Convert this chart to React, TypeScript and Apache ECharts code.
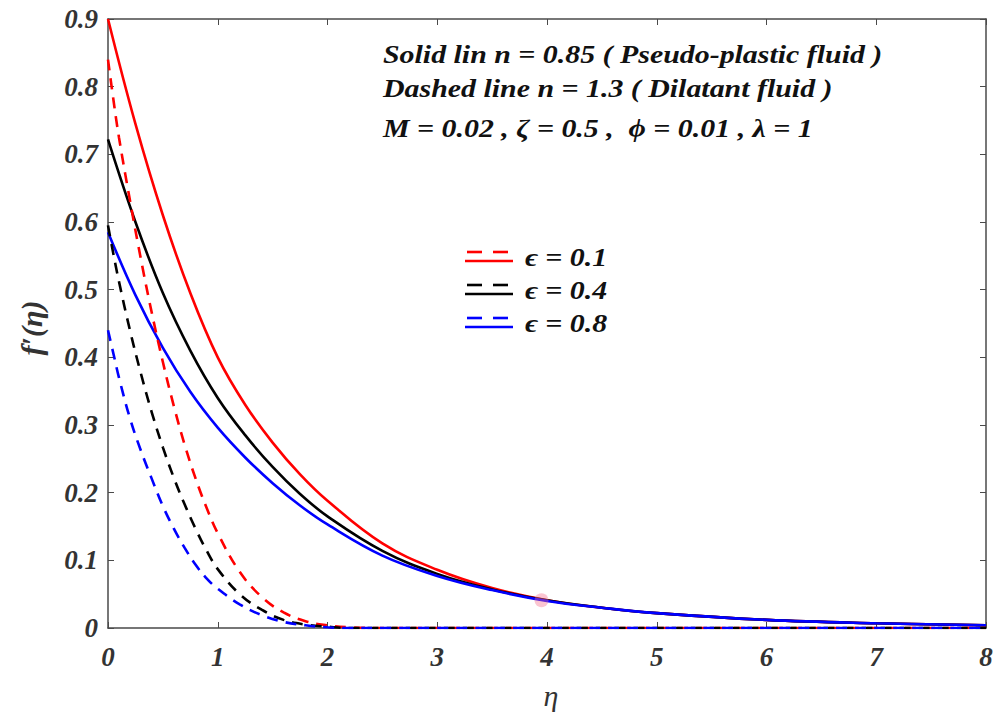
import React, { useEffect, useRef } from "react";
import * as echarts from "echarts";

// η grid for solid curves (n = 0.85, pseudo-plastic)
const etaSolid = [0, 0.25, 0.5, 0.75, 1, 1.25, 1.5, 1.75, 2, 2.5, 3, 3.5, 4, 4.5, 5, 6, 7, 8];
const redSolid = [0.9, 0.745, 0.61, 0.495, 0.4, 0.33, 0.274, 0.227, 0.188, 0.125, 0.086, 0.059, 0.041, 0.03, 0.022, 0.012, 0.007, 0.004];
const blackSolid = [0.722, 0.6, 0.495, 0.41, 0.34, 0.285, 0.238, 0.198, 0.165, 0.114, 0.08, 0.057, 0.041, 0.03, 0.022, 0.012, 0.007, 0.004];
const blueSolid = [0.585, 0.492, 0.414, 0.349, 0.296, 0.252, 0.214, 0.181, 0.153, 0.107, 0.077, 0.056, 0.04, 0.03, 0.022, 0.012, 0.007, 0.004];

// η grid for dashed curves (n = 1.3, dilatant)
const etaDashed = [0, 0.05, 0.1, 0.2, 0.3, 0.4, 0.5, 0.6, 0.7, 0.8, 0.9, 1.0, 1.2, 1.4, 1.6, 1.8, 2.0, 2.2, 2.5, 3, 4, 5, 6, 7, 8];
const redDashed = [0.84, 0.78, 0.725, 0.632, 0.545, 0.465, 0.393, 0.328, 0.27, 0.22, 0.177, 0.14, 0.083, 0.046, 0.023, 0.01, 0.004, 0.001, 0, 0, 0, 0, 0, 0, 0];
const blackDashed = [0.595, 0.552, 0.512, 0.44, 0.376, 0.318, 0.267, 0.222, 0.182, 0.146, 0.114, 0.087, 0.05, 0.027, 0.012, 0.005, 0.002, 0, 0, 0, 0, 0, 0, 0, 0];
const blueDashed = [0.44, 0.405, 0.37, 0.31, 0.262, 0.22, 0.18, 0.147, 0.118, 0.093, 0.073, 0.058, 0.035, 0.019, 0.009, 0.004, 0.001, 0, 0, 0, 0, 0, 0, 0, 0];

const markerEta = [3.95];
const markerVal = [0.041];

const xTicks = [0, 1, 2, 3, 4, 5, 6, 7, 8];
const yTickStep = 0.1;
const legendLabels = ["ϵ = 0.1", "ϵ = 0.4", "ϵ = 0.8"];
const legendColors = ["#ff0000", "#000000", "#0000ff"];
const noteLines = [
  "Solid lin n = 0.85 ( Pseudo-plastic fluid )",
  "Dashed line n = 1.3 ( Dilatant fluid )",
  "M = 0.02 , ζ = 0.5 ,  ϕ = 0.01 , λ = 1",
];

const FONT = "'Liberation Serif', 'DejaVu Serif', serif";

function pairs(xs: number[], ys: number[]) {
  return xs.map((x, i) => [x, ys[i]]);
}

export default function App() {
  const ref = useRef<HTMLDivElement>(null);
  useEffect(() => {
    document.body.style.margin = "0";
    if (!ref.current) return;
    const chart = echarts.init(ref.current, undefined, { renderer: "svg" });
    const axisColor = "#4a4a4a";
    const labelStyle = {
      color: "#333",
      fontFamily: FONT,
      fontSize: 27,
      fontWeight: "bold" as const,
      fontStyle: "italic" as const,
    };
    const solid = (name: string, data: number[], color: string) => ({
      name,
      type: "line",
      data: pairs(etaSolid, data),
      smooth: 0.4,
      showSymbol: false,
      lineStyle: { color, width: 2.6 },
      z: 3,
    });
    const dashed = (name: string, data: number[], color: string) => ({
      name,
      type: "line",
      data: pairs(etaDashed, data),
      smooth: 0.4,
      showSymbol: false,
      lineStyle: { color, width: 2.6, type: [11, 8] },
      z: 3,
    });

    const legendGraphics: any[] = [];
    const rowY = [257, 290, 323];
    legendColors.forEach((c, i) => {
      const y = rowY[i];
      legendGraphics.push(
        { type: "line", shape: { x1: 467, y1: y - 5, x2: 482, y2: y - 5 }, style: { stroke: c, lineWidth: 2.6 } },
        { type: "line", shape: { x1: 493, y1: y - 5, x2: 508, y2: y - 5 }, style: { stroke: c, lineWidth: 2.6 } },
        { type: "line", shape: { x1: 465, y1: y + 4, x2: 513, y2: y + 4 }, style: { stroke: c, lineWidth: 2.6 } },
        {
          type: "text",
          x: 525,
          y,
          scaleX: 1.15,
          style: {
            text: legendLabels[i],
            fill: "#111",
            font: `italic bold 26px ${FONT}`,
            textVerticalAlign: "middle",
            verticalAlign: "middle",
          },
        }
      );
    });
    const noteY = [54, 88, 128];
    const noteGraphics = noteLines.map((t, i) => ({
      type: "text",
      x: 383,
      y: noteY[i],
      scaleX: 1.15,
      style: {
        text: t,
        fill: "#111",
        font: `italic bold 26px ${FONT}`,
        verticalAlign: "middle",
        textVerticalAlign: "middle",
      },
    }));

    chart.setOption({
      animation: false,
      backgroundColor: "#ffffff",
      grid: { left: 108, right: 13, top: 19, bottom: 85, containLabel: false },
      xAxis: [
        {
          type: "value",
          min: xTicks[0],
          max: xTicks[xTicks.length - 1],
          interval: 1,
          axisLine: { show: true, onZero: false, lineStyle: { color: axisColor, width: 1.5 } },
          axisTick: { show: true, inside: true, length: 6, lineStyle: { color: axisColor } },
          axisLabel: { ...labelStyle, margin: 15 },
          splitLine: { show: false },
        },
        {
          type: "value",
          position: "top",
          min: xTicks[0],
          max: xTicks[xTicks.length - 1],
          interval: 1,
          axisLine: { show: true, onZero: false, lineStyle: { color: axisColor, width: 1.5 } },
          axisTick: { show: true, inside: true, length: 6, lineStyle: { color: axisColor } },
          axisLabel: { show: false },
          splitLine: { show: false },
        },
      ],
      yAxis: [
        {
          type: "value",
          min: 0,
          max: 0.9,
          interval: yTickStep,
          axisLine: { show: true, onZero: false, lineStyle: { color: axisColor, width: 1.5 } },
          axisTick: { show: true, inside: true, length: 6, lineStyle: { color: axisColor } },
          axisLabel: {
            ...labelStyle,
            margin: 10,
            formatter: (v: number) => (Math.abs(v) < 1e-9 ? "0" : v.toFixed(1)),
          },
          splitLine: { show: false },
        },
        {
          type: "value",
          position: "right",
          min: 0,
          max: 0.9,
          interval: yTickStep,
          axisLine: { show: true, onZero: false, lineStyle: { color: axisColor, width: 1.5 } },
          axisTick: { show: true, inside: true, length: 6, lineStyle: { color: axisColor } },
          axisLabel: { show: false },
          splitLine: { show: false },
        },
      ],
      series: [
        solid("red solid", redSolid, "#ff0000"),
        solid("black solid", blackSolid, "#000000"),
        solid("blue solid", blueSolid, "#0000ff"),
        dashed("red dashed", redDashed, "#ff0000"),
        dashed("black dashed", blackDashed, "#000000"),
        dashed("blue dashed", blueDashed, "#0000ff"),
        {
          name: "marker",
          type: "scatter",
          data: pairs(markerEta, markerVal),
          symbolSize: 14,
          itemStyle: { color: "rgba(245, 110, 140, 0.5)" },
          z: 4,
        },
      ],
      graphic: [
        ...noteGraphics,
        ...legendGraphics,
        {
          type: "text",
          x: 551,
          y: 695,
          style: {
            text: "η",
            fill: "#333",
            font: `italic 30px ${FONT}`,
            align: "center",
            textAlign: "center",
            verticalAlign: "middle",
            textVerticalAlign: "middle",
          },
        },
        {
          type: "text",
          x: 31,
          y: 328,
          rotation: Math.PI / 2,
          style: {
            text: "f′(η)",
            fill: "#333",
            font: `italic bold 30px ${FONT}`,
            align: "center",
            textAlign: "center",
            verticalAlign: "middle",
            textVerticalAlign: "middle",
          },
        },
      ],
    });
    return () => chart.dispose();
  }, []);
  return <div ref={ref} style={{ width: 999, height: 713 }} />;
}
